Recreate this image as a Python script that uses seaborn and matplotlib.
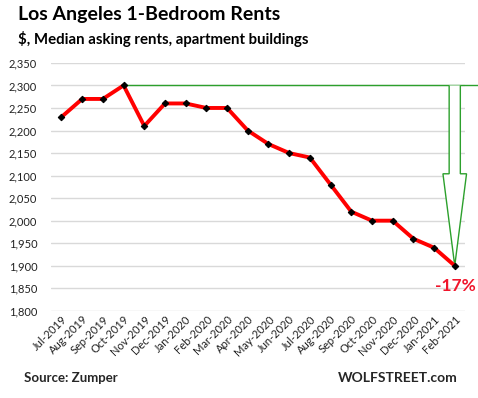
import matplotlib
matplotlib.use("Agg")
import matplotlib.pyplot as plt
import seaborn as sns
import pandas as pd
import numpy as np
from matplotlib.patches import Polygon
from matplotlib.ticker import FuncFormatter

months = ["Jul-2019", "Aug-2019", "Sep-2019", "Oct-2019", "Nov-2019", "Dec-2019",
          "Jan-2020", "Feb-2020", "Mar-2020", "Apr-2020", "May-2020", "Jun-2020",
          "Jul-2020", "Aug-2020", "Sep-2020", "Oct-2020", "Nov-2020", "Dec-2020",
          "Jan-2021", "Feb-2021"]
rents = [2230, 2270, 2270, 2300, 2210, 2260, 2260, 2250, 2250, 2200, 2170, 2150,
         2140, 2080, 2020, 2000, 2000, 1960, 1940, 1900]
yticks = list(range(1800, 2351, 50))

sns.set_theme(style="white")
plt.rcParams["font.family"] = ["Lato", "DejaVu Sans"]

df = pd.DataFrame({"month": months, "rent": rents, "idx": np.arange(len(months))})

fig = plt.figure(figsize=(4.78, 3.98), dpi=100)
ax = fig.add_axes([0.107, 0.219, 0.866, 0.623])

sns.lineplot(data=df, x="idx", y="rent", ax=ax, color="#ff0000", linewidth=2.8,
             marker="D", markersize=3.3, markerfacecolor="black",
             markeredgecolor="black", zorder=3)

ax.set_xlim(-0.5, len(months) - 0.5)
ax.set_ylim(yticks[0], yticks[-1])
ax.set_yticks(yticks)
ax.yaxis.set_major_formatter(FuncFormatter(lambda v, p: f"{int(v):,}"))
ax.set_xticks(df["idx"])
ax.set_xticklabels(months, rotation=45, ha="right", rotation_mode="anchor",
                   fontsize=8, color="#222222")
ax.tick_params(axis="y", labelsize=8, labelcolor="#222222", length=0, pad=10)
ax.tick_params(axis="x", length=0, pad=2)
ax.grid(axis="y", color="#d9d9d9", linewidth=1)
ax.set_axisbelow(True)
for s in ax.spines.values():
    s.set_visible(False)
ax.set_xlabel("")
ax.set_ylabel("")

# Peak-to-now comparison: green line and arrow
peak_i = int(np.argmax(rents))
peak = rents[peak_i]
last_i = len(rents) - 1
last = rents[-1]
green = "#2ca02c"
ax.plot([peak_i, last_i + 1.2], [peak, peak], color=green, linewidth=1,
        clip_on=False, zorder=2)
hw, hh = 0.27, 0.57
neck = last + (peak - last) * 0.51
arrow = Polygon([(last_i - hw, peak), (last_i - hw, neck), (last_i - hh, neck),
                 (last_i, last), (last_i + hh, neck), (last_i + hw, neck),
                 (last_i + hw, peak)], closed=False, facecolor="white",
                edgecolor=green, linewidth=1, zorder=2, clip_on=False)
ax.add_patch(arrow)

pct = round((last - peak) / peak * 100)
ax.text(last_i + 0.05, last - 44, f"{pct}%", color="#f0152b", fontsize=12.5,
        fontweight="bold", ha="center", va="center", zorder=4)

fig.text(0.038, 0.963, "Los Angeles 1-Bedroom Rents", fontsize=14,
         fontweight="bold", ha="left", va="center", color="black")
fig.text(0.038, 0.903, "$, Median asking rents, apartment buildings", fontsize=10.8,
         fontweight="bold", ha="left", va="center", color="black")
fig.text(0.05, 0.05, "Source: Zumper", fontsize=9.5, fontweight="bold",
         ha="left", va="center")
fig.text(0.957, 0.05, "WOLFSTREET.com", fontsize=10, fontweight="bold",
         ha="right", va="center")

fig.savefig("out.png", dpi=100)
